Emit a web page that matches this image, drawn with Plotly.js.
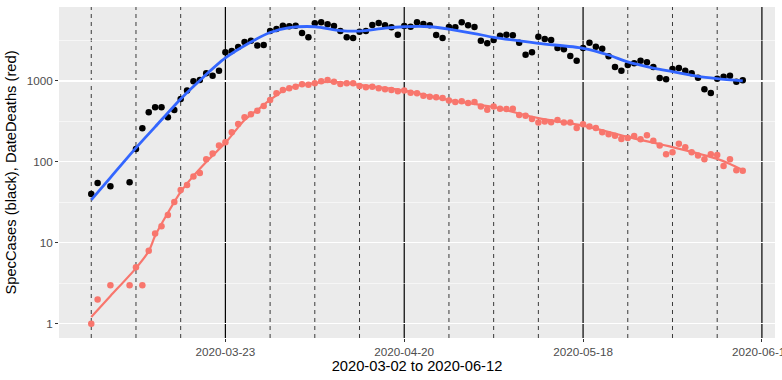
<!DOCTYPE html>
<html>
<head>
<meta charset="utf-8">
<script src="https://cdn.plot.ly/plotly-3.0.1.min.js"></script>
<style>html,body{margin:0;padding:0;background:#fff;}#chart{width:782px;height:380px;}</style>
</head>
<body>
<div id="chart"></div>
<script>
// Dates with data (2020-03-02 .. 2020-06-12)
const dates = [
 '2020-03-02','2020-03-03','2020-03-05','2020-03-08','2020-03-09','2020-03-10','2020-03-11','2020-03-12','2020-03-13','2020-03-14',
 '2020-03-15','2020-03-16','2020-03-17','2020-03-18','2020-03-19','2020-03-20','2020-03-21','2020-03-22','2020-03-23','2020-03-24',
 '2020-03-25','2020-03-26','2020-03-27','2020-03-28','2020-03-29','2020-03-30','2020-03-31','2020-04-01','2020-04-02','2020-04-03',
 '2020-04-04','2020-04-05','2020-04-06','2020-04-07','2020-04-08','2020-04-09','2020-04-10','2020-04-11','2020-04-12','2020-04-13',
 '2020-04-14','2020-04-15','2020-04-16','2020-04-17','2020-04-18','2020-04-19','2020-04-20','2020-04-21','2020-04-22','2020-04-23',
 '2020-04-24','2020-04-25','2020-04-26','2020-04-27','2020-04-28','2020-04-29','2020-04-30','2020-05-01','2020-05-02','2020-05-03',
 '2020-05-04','2020-05-05','2020-05-06','2020-05-07','2020-05-08','2020-05-09','2020-05-10','2020-05-11','2020-05-12','2020-05-13',
 '2020-05-14','2020-05-15','2020-05-16','2020-05-17','2020-05-18','2020-05-19','2020-05-20','2020-05-21','2020-05-22','2020-05-23',
 '2020-05-24','2020-05-25','2020-05-26','2020-05-27','2020-05-28','2020-05-29','2020-05-30','2020-05-31','2020-06-01','2020-06-02',
 '2020-06-03','2020-06-04','2020-06-05','2020-06-06','2020-06-07','2020-06-08','2020-06-09','2020-06-10','2020-06-11','2020-06-12'
];
const specCases = [
 40,55,50,56,144,261,411,473,473,356,
 438,600,760,991,1028,1245,1164,1340,2260,2346,
 2630,3030,3150,2750,2780,4140,4390,4820,4760,4820,
 3920,3466,5150,5300,5010,4780,4140,3466,3396,4060,
 4140,4900,5200,4890,4600,3730,4780,4680,5300,5040,
 4890,3700,3396,4640,4600,5300,4890,4640,3150,2920,
 3206,3625,3730,3665,2970,2110,2260,3520,3300,3206,
 2550,2460,2035,1780,2550,2970,2654,2505,2018,1490,
 1340,1577,1652,1780,1700,1490,1089,1050,1406,1446,
 1340,1245,1099,789,711,1067,1129,1164,980,1019
];
const dateDeaths = [
 1,2,3,3,5,3,8,13,16,22,
 32,45,52,66,73,108,127,159,175,233,
 294,356,388,430,491,582,705,774,812,851,
 910,895,937,991,1028,980,918,937,937,867,
 836,851,812,789,774,746,760,717,705,659,
 640,629,615,575,550,561,535,550,482,442,
 482,455,451,455,380,373,340,306,315,309,
 330,306,306,263,292,273,263,233,220,211,
 192,197,209,191,213,182,159,124,132,167,
 152,132,120,108,124,122,89,108,79,78
];
// Smooth (loess) curves
const casesSmoothDates = ['2020-03-02','2020-03-05','2020-03-09','2020-03-12','2020-03-16','2020-03-19','2020-03-23','2020-03-27','2020-03-30','2020-04-02','2020-04-06','2020-04-10','2020-04-13','2020-04-17','2020-04-20','2020-04-24','2020-04-27','2020-05-01','2020-05-04','2020-05-11','2020-05-18','2020-05-22','2020-05-25','2020-05-29','2020-06-01','2020-06-05','2020-06-08','2020-06-12'];
const casesSmooth = [34,64,149,271,600,1016,1923,3030,3970,4550,4680,4200,4140,4510,4680,4680,4385,3857,3465,2920,2535,2094,1718,1446,1303,1137,1067,1000];
const deathsSmoothDates = ['2020-03-02','2020-03-05','2020-03-09','2020-03-11','2020-03-12','2020-03-14','2020-03-16','2020-03-18','2020-03-20','2020-03-23','2020-03-26','2020-03-28','2020-03-30','2020-04-01','2020-04-03','2020-04-06','2020-04-08','2020-04-11','2020-04-13','2020-04-20','2020-04-27','2020-05-04','2020-05-11','2020-05-18','2020-05-25','2020-06-01','2020-06-08','2020-06-10','2020-06-12'];
const deathsSmooth = [1.21,2.2,4.87,7.9,12.2,23.5,42.6,67.2,100,172,330,438,582,753,867,937,972,944,893,759,582,473,347,281,204,152,109,94.5,79.7];

const solidDates = ['2020-03-23','2020-04-20','2020-05-18','2020-06-15'];
const dashedDates = ['2020-03-02','2020-03-09','2020-03-16','2020-03-30','2020-04-06','2020-04-13','2020-04-27','2020-05-04','2020-05-11','2020-05-25','2020-06-01','2020-06-08'];
const yTickVals = [1,10,100,1000];
const yTickText = ['1','10','100','1000'];
const yMinorVals = [3.162,31.62,316.2,3162];

const FONT = 'Liberation Sans, Arial, sans-serif';

const shapes = [];
dashedDates.forEach(d => shapes.push({type:'line', xref:'x', yref:'paper', x0:d, x1:d, y0:0, y1:1, layer:'between', line:{color:'#3a3a3a', width:1, dash:'4px,4px'}}));
solidDates.forEach(d => shapes.push({type:'line', xref:'x', yref:'paper', x0:d, x1:d, y0:0, y1:1, layer:'between', line:{color:'#000000', width:1.2}}));

const traces = [
 {x:dates, y:specCases, type:'scatter', mode:'markers', marker:{color:'#000000', size:6.5}},
 {x:dates, y:dateDeaths, type:'scatter', mode:'markers', marker:{color:'#F8766D', size:6.5}},
 {x:casesSmoothDates, y:casesSmooth, type:'scatter', mode:'lines', line:{color:'#3366FF', width:2.8, shape:'spline', smoothing:0.8}},
 {x:deathsSmoothDates, y:deathsSmooth, type:'scatter', mode:'lines', line:{color:'#F8766D', width:2.2, shape:'spline', smoothing:0.8}}
];

const layout = {
 width:782, height:380,
 margin:{l:59, r:7, t:7, b:42},
 paper_bgcolor:'#ffffff', plot_bgcolor:'#EBEBEB',
 showlegend:false, hovermode:false,
 font:{family:FONT, color:'#000'},
 xaxis:{
  type:'date', range:['2020-02-25 22:48','2020-06-17 01:12'],
  tickmode:'array', tickvals:solidDates, ticktext:solidDates,
  ticks:'outside', ticklen:3, tickwidth:1, tickcolor:'#333333',
  tickfont:{family:FONT, size:11.7, color:'#4D4D4D'},
  ticklabeloverflow:'allow',
  showgrid:false, zeroline:false, showline:false, automargin:false,
  title:{text:'2020-03-02 to 2020-06-12', font:{family:FONT, size:14.7, color:'#000'}, standoff:3}
 },
 yaxis:{
  type:'log', range:[-0.176, 3.914],
  tickmode:'array', tickvals:yTickVals, ticktext:yTickText,
  ticks:'outside', ticklen:3, tickwidth:1, tickcolor:'#333333',
  tickfont:{family:FONT, size:11.7, color:'#4D4D4D'},
  showgrid:true, gridcolor:'#FFFFFF', gridwidth:1.1,
  minor:{tickvals:yMinorVals, showgrid:true, gridcolor:'#FFFFFF', gridwidth:0.55, ticks:''},
  zeroline:false, showline:false, automargin:false,
  title:{text:'SpecCases (black), DateDeaths (red)', font:{family:FONT, size:14.7, color:'#000'}, standoff:6}
 },
 shapes:shapes
};

Plotly.newPlot('chart', traces, layout, {displayModeBar:false, staticPlot:true});
</script>
</body>
</html>
